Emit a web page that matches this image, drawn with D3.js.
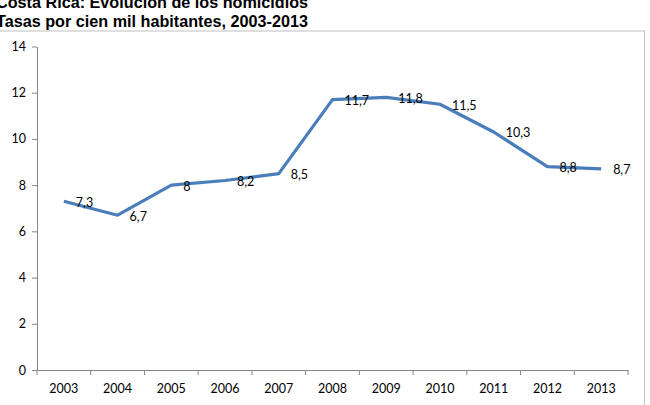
<!DOCTYPE html>
<html>
<head>
<meta charset="utf-8">
<script src="https://cdn.jsdelivr.net/npm/d3@7"></script>
<style>
  body { margin: 0; background: #fff; }
  svg { display: block; }
</style>
</head>
<body>
<script>
var years = ["2003", "2004", "2005", "2006", "2007", "2008", "2009", "2010", "2011", "2012", "2013"];
var rates = [7.3, 6.7, 8, 8.2, 8.5, 11.7, 11.8, 11.5, 10.3, 8.8, 8.7];
var yTicks = [0, 2, 4, 6, 8, 10, 12, 14];
var titleLines = ["Costa Rica: Evolución de los homicidios", "Tasas por cien mil habitantes, 2003-2013"];

var width = 650, height = 405;
var plotLeft = 37, plotRight = 628, plotTop = 46.5, plotBottom = 370;

var svg = d3.select("body").append("svg")
    .attr("width", width)
    .attr("height", height);

// chart frame
svg.append("rect")
    .attr("x", -2).attr("y", 31)
    .attr("width", 646.5).attr("height", 390)
    .attr("fill", "none")
    .attr("stroke", "#bfbfbf")
    .attr("stroke-width", 1);

// title
svg.selectAll(".title")
    .data(titleLines)
    .enter().append("text")
    .attr("class", "title")
    .attr("x", -4)
    .attr("y", function(d, i) { return 8 + i * 19; })
    .attr("font-family", "Liberation Sans, Arial, sans-serif")
    .attr("font-weight", "bold")
    .attr("font-size", 16.2)
    .attr("fill", "#000")
    .text(function(d) { return d; });

var x = d3.scaleBand().domain(years).range([plotLeft, plotRight]).padding(0);
var y = d3.scaleLinear().domain([0, 14]).range([plotBottom, plotTop]);

// y axis
var yAx = svg.append("g")
    .attr("transform", "translate(" + plotLeft + ",0)")
    .call(d3.axisLeft(y).tickValues(yTicks).tickSize(5).tickPadding(6).tickSizeOuter(0));

// x axis
var xAx = svg.append("g")
    .attr("transform", "translate(0," + plotBottom + ")")
    .call(d3.axisBottom(x).tickSize(0).tickPadding(14).tickSizeOuter(0));

// tick marks between categories
var bounds = years.map(function(d) { return x(d); }).concat([plotRight]);
xAx.selectAll(".sep")
    .data(bounds)
    .enter().append("line")
    .attr("class", "sep")
    .attr("x1", function(d) { return d; })
    .attr("x2", function(d) { return d; })
    .attr("y1", 0).attr("y2", 5)
    .attr("stroke", "#868686");

[yAx, xAx].forEach(function(ax) {
    ax.selectAll(".domain").attr("stroke", "#868686");
    ax.selectAll(".tick line").attr("stroke", "#868686");
    ax.selectAll("text")
        .attr("font-family", "Lato, 'Open Sans', sans-serif")
        .attr("font-size", 12.5)
        .attr("fill", "#000");
});

var line = d3.line()
    .x(function(d, i) { return x(years[i]) + x.bandwidth() / 2; })
    .y(function(d) { return y(d); });

svg.append("path")
    .datum(rates)
    .attr("d", line)
    .attr("fill", "none")
    .attr("stroke", "#4a7ebb")
    .attr("stroke-width", 3.2)
    .attr("stroke-linejoin", "round");

svg.selectAll(".lbl")
    .data(rates)
    .enter().append("text")
    .attr("class", "lbl")
    .attr("x", function(d, i) { return x(years[i]) + x.bandwidth() / 2 + 12; })
    .attr("y", function(d) { return y(d) + 1; })
    .attr("dy", "0.35em")
    .attr("font-family", "Lato, 'Open Sans', sans-serif")
    .attr("font-size", 12.5)
    .attr("fill", "#000")
    .text(function(d) { return String(d).replace(".", ","); });
</script>
</body>
</html>
